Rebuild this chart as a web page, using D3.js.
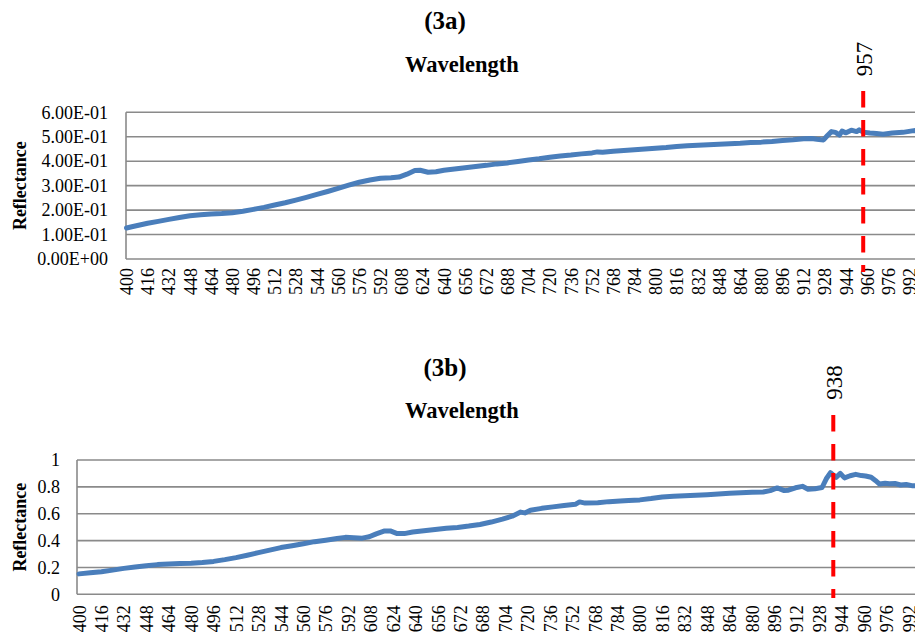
<!DOCTYPE html>
<html>
<head>
<meta charset="utf-8">
<script src="https://cdn.jsdelivr.net/npm/d3@7"></script>
<style>
  html, body { margin: 0; padding: 0; background: #fff; }
  svg { display: block; }
  svg text { font-family: "Times New Roman", "Liberation Serif", "DejaVu Serif", serif !important; fill: #000; }
</style>
</head>
<body>
<svg id="chart" width="915" height="639"></svg>
<script>
// ---- Panel (3a): reflectance spectrum, marker at 957 nm ----
const wavelengthA = [400,404,410,416,424,432,440,448,456,464,472,480,488,496,504,512,520,528,536,544,552,560,568,576,584,592,600,606,612,618,622,628,634,640,648,656,664,672,680,688,696,704,712,720,728,736,744,752,756,760,768,776,784,792,800,808,816,824,832,840,848,856,864,872,880,888,896,904,912,918,922,927,930,933,936,939,941,944,948,952,954,957,962,967,972,979,987,994,1000];
const reflectanceA = [0.127,0.132,0.139,0.146,0.154,0.162,0.170,0.177,0.181,0.184,0.186,0.189,0.195,0.203,0.211,0.221,0.230,0.241,0.252,0.264,0.276,0.289,0.302,0.314,0.323,0.330,0.332,0.335,0.347,0.362,0.363,0.355,0.357,0.363,0.368,0.373,0.378,0.383,0.389,0.393,0.399,0.405,0.410,0.416,0.421,0.425,0.430,0.434,0.438,0.437,0.441,0.444,0.447,0.450,0.453,0.456,0.460,0.463,0.465,0.467,0.469,0.471,0.473,0.476,0.478,0.481,0.485,0.488,0.492,0.493,0.490,0.487,0.505,0.521,0.518,0.507,0.523,0.516,0.527,0.521,0.528,0.519,0.515,0.513,0.510,0.515,0.518,0.524,0.527];
const yTicksA = [0, 0.1, 0.2, 0.3, 0.4, 0.5, 0.6];
const yTickLabelsA = ["0.00E+00","1.00E-01","2.00E-01","3.00E-01","4.00E-01","5.00E-01","6.00E-01"];
const markerA = 957;

// ---- Panel (3b): reflectance spectrum, marker at 938 nm ----
const wavelengthB = [400,408,416,424,432,440,448,456,464,472,480,488,496,504,512,520,528,536,544,552,560,568,576,584,590,596,602,607,612,618,622,627,632,638,646,654,662,670,678,686,694,702,709,715,718,722,730,738,746,754,757,761,770,778,786,792,800,808,816,824,832,840,848,856,864,872,880,888,893,898,903,906,911,916,920,925,930,933,936,940,943,946,950,954,958,961,965,968,971,975,978,982,986,990,994,1000];
const reflectanceB = [0.152,0.160,0.168,0.180,0.193,0.204,0.213,0.221,0.226,0.229,0.231,0.236,0.245,0.258,0.273,0.291,0.310,0.329,0.348,0.362,0.377,0.392,0.403,0.415,0.424,0.421,0.418,0.428,0.450,0.472,0.472,0.452,0.452,0.464,0.473,0.482,0.491,0.498,0.508,0.520,0.538,0.560,0.582,0.612,0.606,0.626,0.640,0.651,0.661,0.670,0.688,0.679,0.682,0.690,0.694,0.698,0.703,0.713,0.725,0.730,0.734,0.738,0.742,0.747,0.752,0.756,0.759,0.762,0.772,0.792,0.772,0.775,0.793,0.804,0.782,0.786,0.795,0.860,0.905,0.871,0.900,0.867,0.883,0.893,0.884,0.881,0.872,0.848,0.821,0.827,0.824,0.825,0.814,0.817,0.809,0.808];
const yTicksB = [0, 0.2, 0.4, 0.6, 0.8, 1];
const yTickLabelsB = ["0","0.2","0.4","0.6","0.8","1"];
const markerB = 938;

// Shared category labels along the wavelength axis
const xTicks = [400,416,432,448,464,480,496,512,528,544,560,576,592,608,624,640,656,672,688,704,720,736,752,768,784,800,816,832,848,864,880,896,912,928,944,960,976,992];

const svg = d3.select("#chart");
const W = 915;
const gridColor = "#8a8a8a";
const lineColor = "#4a7ebb";
const serif = "'Times New Roman', 'Liberation Serif', serif";

function panel(cfg) {
  const g = svg.append("g");
  const x = d3.scaleLinear().domain([400, 992]).range(cfg.xRange);
  const y = d3.scaleLinear().domain([0, cfg.yMax]).range([cfg.bottom, cfg.top]);
  const left = cfg.left;

  // horizontal gridlines
  g.append("g").selectAll("line").data(cfg.yTicks).join("line")
    .attr("x1", left).attr("x2", W)
    .attr("y1", d => y(d)).attr("y2", d => y(d))
    .attr("stroke", gridColor).attr("stroke-width", 1.6);

  // left axis line
  g.append("line").attr("x1", left).attr("x2", left)
    .attr("y1", cfg.top).attr("y2", cfg.bottom)
    .attr("stroke", gridColor).attr("stroke-width", 1.6);

  // y axis labels
  const yAxis = d3.axisLeft(y).tickValues(cfg.yTicks).tickSize(0).tickPadding(0)
    .tickFormat((d, i) => cfg.yTickLabels[i]);
  const ya = g.append("g").attr("transform", `translate(${cfg.yLabelRight},0)`).call(yAxis)
    .attr("font-family", serif).attr("font-size", 18);
  ya.select(".domain").remove();
  ya.selectAll("text").attr("fill", "#000");

  // x axis category labels (vertical)
  const xAxis = d3.axisBottom(x).tickValues(xTicks).tickSize(0).tickFormat(d3.format("d"));
  const xa = g.append("g").attr("transform", `translate(0,${cfg.bottom})`).call(xAxis)
    .attr("font-family", serif).attr("font-size", 18);
  xa.select(".domain").remove();
  xa.selectAll("text")
    .attr("fill", "#000")
    .attr("text-anchor", "end")
    .attr("transform", "rotate(-90)")
    .attr("x", -cfg.xLabelGap).attr("y", 0).attr("dy", "0.34em");

  // spectrum line
  const pts = cfg.wl.map((w, i) => [w, cfg.refl[i]]);
  g.append("path").datum(pts)
    .attr("fill", "none").attr("stroke", lineColor).attr("stroke-width", 5)
    .attr("stroke-linejoin", "round").attr("stroke-linecap", "round")
    .attr("d", d3.line().x(d => x(d[0])).y(d => y(d[1])));

  // red dashed marker
  g.append("line")
    .attr("x1", x(cfg.marker)).attr("x2", x(cfg.marker))
    .attr("y1", cfg.markerTop).attr("y2", cfg.markerBottom)
    .attr("stroke", "#ff0000").attr("stroke-width", 4)
    .attr("stroke-dasharray", "16.5,12.5");
  g.append("text")
    .attr("transform", `translate(${x(cfg.marker) + 1},${cfg.markerLabelY}) rotate(-90)`)
    .attr("text-anchor", "middle").attr("dy", "0.34em")
    .attr("font-family", serif).attr("font-size", 23)
    .text(cfg.marker);

  // titles
  g.append("text").attr("x", cfg.titleX).attr("y", cfg.titleY)
    .attr("text-anchor", "middle").attr("font-family", serif).attr("font-size", 25).attr("font-weight", "bold")
    .text(cfg.title);
  g.append("text").attr("x", 462).attr("y", cfg.xTitleY)
    .attr("text-anchor", "middle").attr("font-family", serif).attr("font-size", 22.5).attr("font-weight", "bold")
    .text("Wavelength");
  g.append("text")
    .attr("transform", `translate(20,${(cfg.top + cfg.bottom) / 2}) rotate(-90)`)
    .attr("text-anchor", "middle").attr("dy", "0.34em")
    .attr("font-family", serif).attr("font-size", 18).attr("font-weight", "bold")
    .text("Reflectance");
}

panel({
  wl: wavelengthA, refl: reflectanceA, yTicks: yTicksA, yTickLabels: yTickLabelsA, yMax: 0.6,
  xRange: [126.5, 909.5], left: 126, top: 112.3, bottom: 259, yLabelRight: 108, xLabelGap: 9,
  marker: markerA, markerTop: 91, markerBottom: 272, markerLabelY: 59,
  title: "(3a)", titleX: 445, titleY: 29, xTitleY: 72
});

panel({
  wl: wavelengthB, refl: reflectanceB, yTicks: yTicksB, yTickLabels: yTickLabelsB, yMax: 1,
  xRange: [79, 909], left: 77, top: 460, bottom: 594.3, yLabelRight: 60, xLabelGap: 11,
  marker: markerB, markerTop: 415, markerBottom: 598, markerLabelY: 382.5,
  title: "(3b)", titleX: 445, titleY: 376, xTitleY: 418
});
</script>
</body>
</html>
